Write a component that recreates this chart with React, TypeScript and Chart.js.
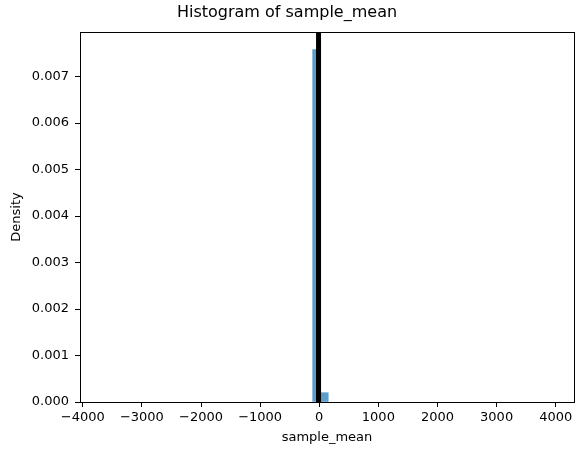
import React, { useEffect, useRef } from "react";
import { Chart, registerables } from "chart.js";

Chart.register(...registerables);

// Histogram data (density)
const binEdges = [-111, 20, 152];
const densities = [0.00758, 0.0002];
const meanValue = -12;

const xTicks = [-4000, -3000, -2000, -1000, 0, 1000, 2000, 3000, 4000];
const yTicks = [0, 0.001, 0.002, 0.003, 0.004, 0.005, 0.006, 0.007];

const xMin = -4047;
const xMax = 4309;
const yMax = 0.00796;

const titleText = "Histogram of sample_mean";
const xLabel = "sample_mean";
const yLabel = "Density";

const FONT = "'DejaVu Sans', sans-serif";

const binCenters = densities.map((_, i) => (binEdges[i] + binEdges[i + 1]) / 2);

const fmtX = (v: number) => (v < 0 ? "\u2212" + Math.abs(v) : String(v));

export default function App() {
  const ref = useRef<HTMLCanvasElement | null>(null);

  useEffect(() => {
    document.body.style.margin = "0";
    const canvas = ref.current;
    if (!canvas) return;

    const framePlugin = {
      id: "frame",
      afterDatasetsDraw(chart: any) {
        const { ctx, chartArea } = chart;
        const xs = chart.scales.x;
        const px = xs.getPixelForValue(meanValue);
        ctx.save();
        ctx.strokeStyle = "#000";
        ctx.lineWidth = 5;
        ctx.beginPath();
        ctx.moveTo(px, chartArea.top);
        ctx.lineTo(px, chartArea.bottom);
        ctx.stroke();
        ctx.lineWidth = 1;
        ctx.strokeRect(
          Math.round(chartArea.left) + 0.5,
          Math.round(chartArea.top) + 0.5,
          Math.round(chartArea.right - chartArea.left),
          Math.round(chartArea.bottom - chartArea.top)
        );
        ctx.restore();
      },
    };

    const chart = new Chart(canvas, {
      type: "bar",
      data: {
        datasets: [
          {
            label: "count",
            data: binCenters.map((c, i) => ({ x: c, y: densities[i] })),
            backgroundColor: "rgba(31,119,180,0.72)",
            borderWidth: 0,
            barPercentage: 1,
            categoryPercentage: 1,
          },
        ],
      },
      plugins: [framePlugin],
      options: {
        animation: false,
        responsive: false,
        devicePixelRatio: 1,
        layout: { padding: { left: 0, right: 10, top: 0, bottom: 0 } },
        plugins: {
          legend: { display: false },
          tooltip: { enabled: false },
          title: {
            display: true,
            text: titleText,
            color: "#000",
            font: { family: FONT, size: 16, weight: "normal" },
            padding: { top: 3.4, bottom: 9.4 },
          },
        },
        scales: {
          x: {
            type: "linear",
            min: xMin,
            max: xMax,
            offset: false,
            afterBuildTicks(scale: any) {
              scale.ticks = xTicks.map((v) => ({ value: v }));
            },
            afterFit(scale: any) {
              scale.height = 53;
            },
            grid: {
              offset: false,
              drawOnChartArea: false,
              drawTicks: true,
              tickLength: 5,
              color: "#000",
            },
            border: { display: false },
            ticks: {
              maxRotation: 0,
              autoSkip: false,
              padding: 3,
              color: "#000",
              font: { family: FONT, size: 13 },
              callback: (v: any) => fmtX(Number(v)),
            },
            title: {
              display: true,
              text: xLabel,
              color: "#000",
              font: { family: FONT, size: 13 },
              padding: { top: 10, bottom: 10 },
            },
          },
          y: {
            type: "linear",
            min: 0,
            max: yMax,
            afterBuildTicks(scale: any) {
              scale.ticks = yTicks.map((v) => ({ value: v }));
            },
            afterFit(scale: any) {
              scale.width = 80;
            },
            grid: {
              drawOnChartArea: false,
              drawTicks: true,
              tickLength: 5,
              color: "#000",
            },
            border: { display: false },
            ticks: {
              padding: 6,
              color: "#000",
              font: { family: FONT, size: 13 },
              callback: (v: any) => Number(v).toFixed(3),
            },
            title: {
              display: true,
              text: yLabel,
              color: "#000",
              font: { family: FONT, size: 13 },
              padding: { top: 9, bottom: 0 },
            },
          },
        },
      },
    } as any);

    return () => chart.destroy();
  }, []);

  return (
    <div style={{ width: 584, height: 455, background: "#fff" }}>
      <canvas ref={ref} width={584} height={455} style={{ display: "block" }} />
    </div>
  );
}
